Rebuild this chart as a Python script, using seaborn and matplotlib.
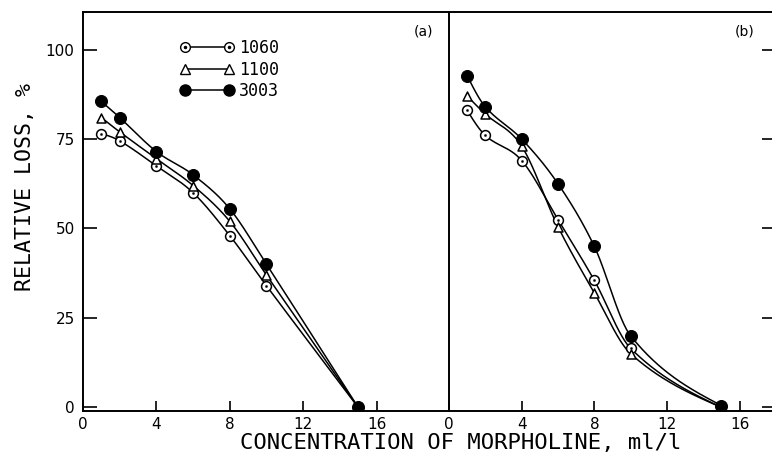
"""
relative loss vs morpholine concentration, two panels
"""

import numpy as np
import pandas as pd
import seaborn as sns
import matplotlib
matplotlib.use("Agg")
import matplotlib.pyplot as plt
from matplotlib.lines import Line2D


# data
conc = [1, 2, 4, 6, 8, 10, 15]
alloys = ["1060", "1100", "3003"]

loss_a_1060 = [76.5, 74.5, 67.5, 60.0, 48.0, 34.0, 0.0]
loss_a_1100 = [81.0, 77.0, 69.5, 62.0, 52.0, 37.0, 0.0]
loss_a_3003 = [85.5, 81.0, 71.5, 65.0, 55.5, 40.0, 0.0]

loss_b_1060 = [83.0, 76.0, 69.0, 52.5, 35.5, 16.5, 0.0]
loss_b_1100 = [87.0, 82.0, 73.0, 50.5, 32.0, 15.0, 0.0]
loss_b_3003 = [92.7, 84.0, 75.0, 62.5, 45.0, 20.0, 0.5]

x_ticks = [0, 4, 8, 12, 16]
y_ticks = [0, 25, 50, 75, 100]


# configurations
sns.set_style("ticks", {"xtick.color": "black", "ytick.color": "black",
                        "axes.edgecolor": "black", "text.color": "black"})
plt.rcParams["font.family"] = "DejaVu Sans"


def smooth_curve(x, y, xs):
    # hermite curve with finite-difference tangents (drawing only)
    x = np.asarray(x, float)
    y = np.asarray(y, float)
    n = len(x)
    h = np.diff(x)
    m = np.empty(n)
    for k in range(1, n - 1):
        m[k] = (y[k + 1] - y[k - 1]) / (x[k + 1] - x[k - 1])
    d0 = (y[1] - y[0]) / h[0]
    d1 = (y[-1] - y[-2]) / h[-1]
    m[0] = 1.5 * d0 - 0.5 * m[1]
    m[-1] = 1.5 * d1 - 0.5 * m[-2]
    out = np.empty_like(xs)
    for i, xv in enumerate(xs):
        k = min(max(np.searchsorted(x, xv) - 1, 0), n - 2)
        t = (xv - x[k]) / h[k]
        out[i] = (2 * t**3 - 3 * t**2 + 1) * y[k] + (t**3 - 2 * t**2 + t) * h[k] * m[k] \
            + (-2 * t**3 + 3 * t**2) * y[k + 1] + (t**3 - t**2) * h[k] * m[k + 1]
    return out


def draw_panel(ax, series):
    xs = np.linspace(conc[0], conc[-1], 300)
    for name, vals in series.items():
        curve = pd.DataFrame({"x": xs, "y": smooth_curve(conc, vals, xs)})
        sns.lineplot(data=curve, x="x", y="y", color="black", lw=1.1, ax=ax, zorder=2)
    pts = {n: pd.DataFrame({"x": conc, "y": v}) for n, v in series.items()}
    sns.scatterplot(data=pts["1060"], x="x", y="y", marker="o", s=50, facecolor="white",
                    edgecolor="black", linewidth=1.1, ax=ax, zorder=3)
    sns.scatterplot(data=pts["1060"], x="x", y="y", marker="o", s=3, color="black",
                    edgecolor="black", ax=ax, zorder=4)
    sns.scatterplot(data=pts["1100"], x="x", y="y", marker="^", s=42, facecolor="white",
                    edgecolor="black", linewidth=1.1, ax=ax, zorder=3)
    sns.scatterplot(data=pts["3003"], x="x", y="y", marker="o", s=75, color="black",
                    edgecolor="black", ax=ax, zorder=3)


fig = plt.figure(figsize=(7.72, 4.59), dpi=100)
ax_a = fig.add_axes([83 / 772, 48 / 459, 366 / 772, 399 / 459])
ax_b = fig.add_axes([449 / 772, 48 / 459, 323 / 772, 399 / 459], sharey=ax_a)

draw_panel(ax_a, {"1060": loss_a_1060, "1100": loss_a_1100, "3003": loss_a_3003})
draw_panel(ax_b, {"1060": loss_b_1060, "1100": loss_b_1100, "3003": loss_b_3003})

ax_a.set_xlim(0, 19.95)
ax_b.set_xlim(0, 17.78)
ax_a.set_ylim(-1, 110.5)

for ax in (ax_a, ax_b):
    ax.set_xticks(x_ticks)
    ax.set_xticklabels([str(t) for t in x_ticks], fontsize=11)
    ax.tick_params(axis="x", direction="in", length=7, width=1.2, pad=4)
    ax.set_xlabel("")
    ax.set_ylabel("")
    for sp in ax.spines.values():
        sp.set_linewidth(1.4)

ax_a.set_yticks(y_ticks)
ax_a.set_yticklabels([str(t) for t in y_ticks], fontsize=11)
ax_a.tick_params(axis="y", direction="in", length=10, width=1.2, pad=6)
ax_a.spines["right"].set_visible(False)

ax_b.spines["right"].set_visible(False)
ax_b.tick_params(axis="y", left=False, labelleft=False, right=True, labelright=False,
                 direction="in", length=7, width=1.2)

ax_a.text(0.93, 0.95, "(a)", transform=ax_a.transAxes, ha="center", va="center", fontsize=10)
ax_b.text(0.915, 0.95, "(b)", transform=ax_b.transAxes, ha="center", va="center", fontsize=10)

# legend
h1060 = (Line2D([0], [0], color="black", lw=1.1, marker="o", ms=7, mfc="white", mec="black"),
         Line2D([0], [0], ls="none", marker="o", ms=1.5, color="black"))
h1100 = Line2D([0], [0], color="black", lw=1.1, marker="^", ms=6.5, mfc="white", mec="black")
h3003 = Line2D([0], [0], color="black", lw=1.1, marker="o", ms=8, mfc="black", mec="black")
ax_a.legend([h1060, h1100, h3003], alloys, loc="upper left", bbox_to_anchor=(0.225, 0.97),
            frameon=False, numpoints=2, handlelength=3.2, handletextpad=0.3, labelspacing=0.22,
            prop={"family": "DejaVu Sans Mono", "size": 12})

fig.text(0.597, 0.035, "CONCENTRATION OF MORPHOLINE, ml/l", ha="center", va="center",
         fontsize=16, family="DejaVu Sans Mono")
fig.text(0.033, 0.593, "RELATIVE LOSS, %", ha="center", va="center", rotation=90,
         fontsize=15.5, family="DejaVu Sans Mono")

plt.savefig("out.png", dpi=100)
